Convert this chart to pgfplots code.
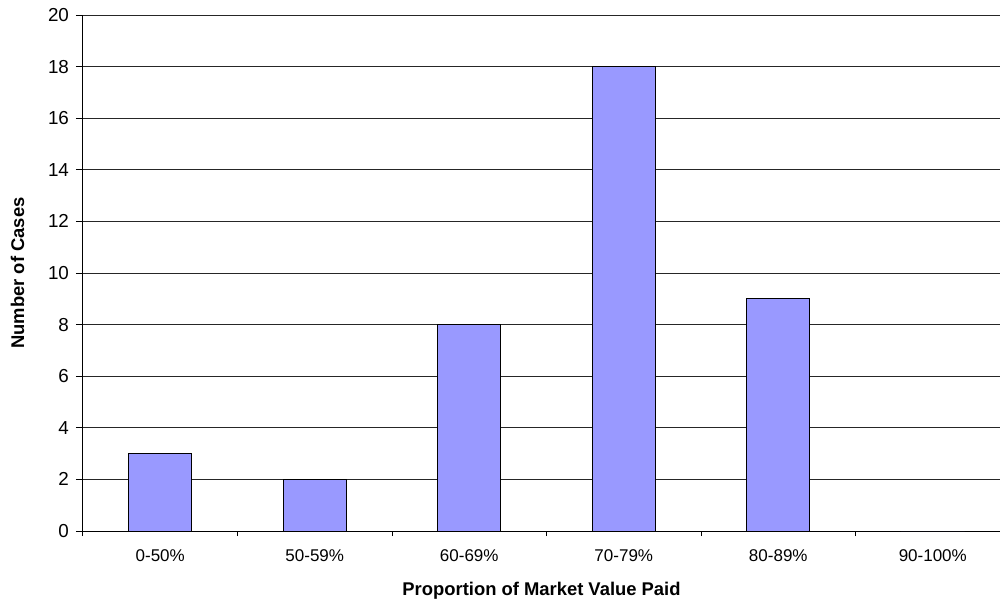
\documentclass[border=0pt]{standalone}
\usepackage{fontspec}
\setmainfont{Liberation Sans}
\usepackage{pgfplots}
\pgfplotsset{compat=1.18}
\usetikzlibrary{calc}
\definecolor{barblue}{HTML}{9999FF}

\begin{document}
\begin{tikzpicture}
\begin{axis}[
    name=ax,
    scale only axis,
    width=458.5pt, height=258pt,
    ybar, bar width=0.41,
    xmin=-0.5, xmax=5.435,
    ymin=0, ymax=20,
    axis lines*=left,
    axis line style={black, line width=0.5pt, -},
    xtick={0,...,5},
    xticklabels={0-50\%,50-59\%,60-69\%,70-79\%,80-89\%,90-100\%},
    major x tick style={draw=none},
    minor xtick={-0.5,0.5,...,4.5},
    minor x tick style={black, line width=0.5pt},
    minor tick length=2.5pt,
    ytick={0,2,...,20},
    major tick length=3.5pt,
    y tick style={black, line width=0.5pt},
    tick align=outside,
    ymajorgrids=true,
    grid style={black!85, line width=0.5pt},
    tick label style={font=\fontsize{8.5}{10}\selectfont},
    xticklabel style={yshift=-2.5pt},
    yticklabel style={font=\fontsize{9.4}{11}\selectfont},
    /pgf/number format/assume math mode=true,
    xlabel={\textbf{Proportion of Market Value Paid}},
    ylabel={\textbf{Number of Cases}},
    label style={font=\fontsize{9.2}{11}\selectfont},
    xlabel style={yshift=-3pt},
    ylabel style={yshift=5pt},
    clip=false,
]
\addplot[fill=barblue, draw=black, line width=0.5pt] coordinates {
    (0,3) (1,2) (2,8) (3,18) (4,9) (5,0)
};
\coordinate (ll) at (rel axis cs:0,0);
\coordinate (ur) at (rel axis cs:1,1);
\end{axis}
\pgfresetboundingbox
\useasboundingbox ($(ll)+(-41.5pt,-35pt)$) rectangle ($(ur)+(0pt,7.5pt)$);
\end{tikzpicture}
\end{document}
